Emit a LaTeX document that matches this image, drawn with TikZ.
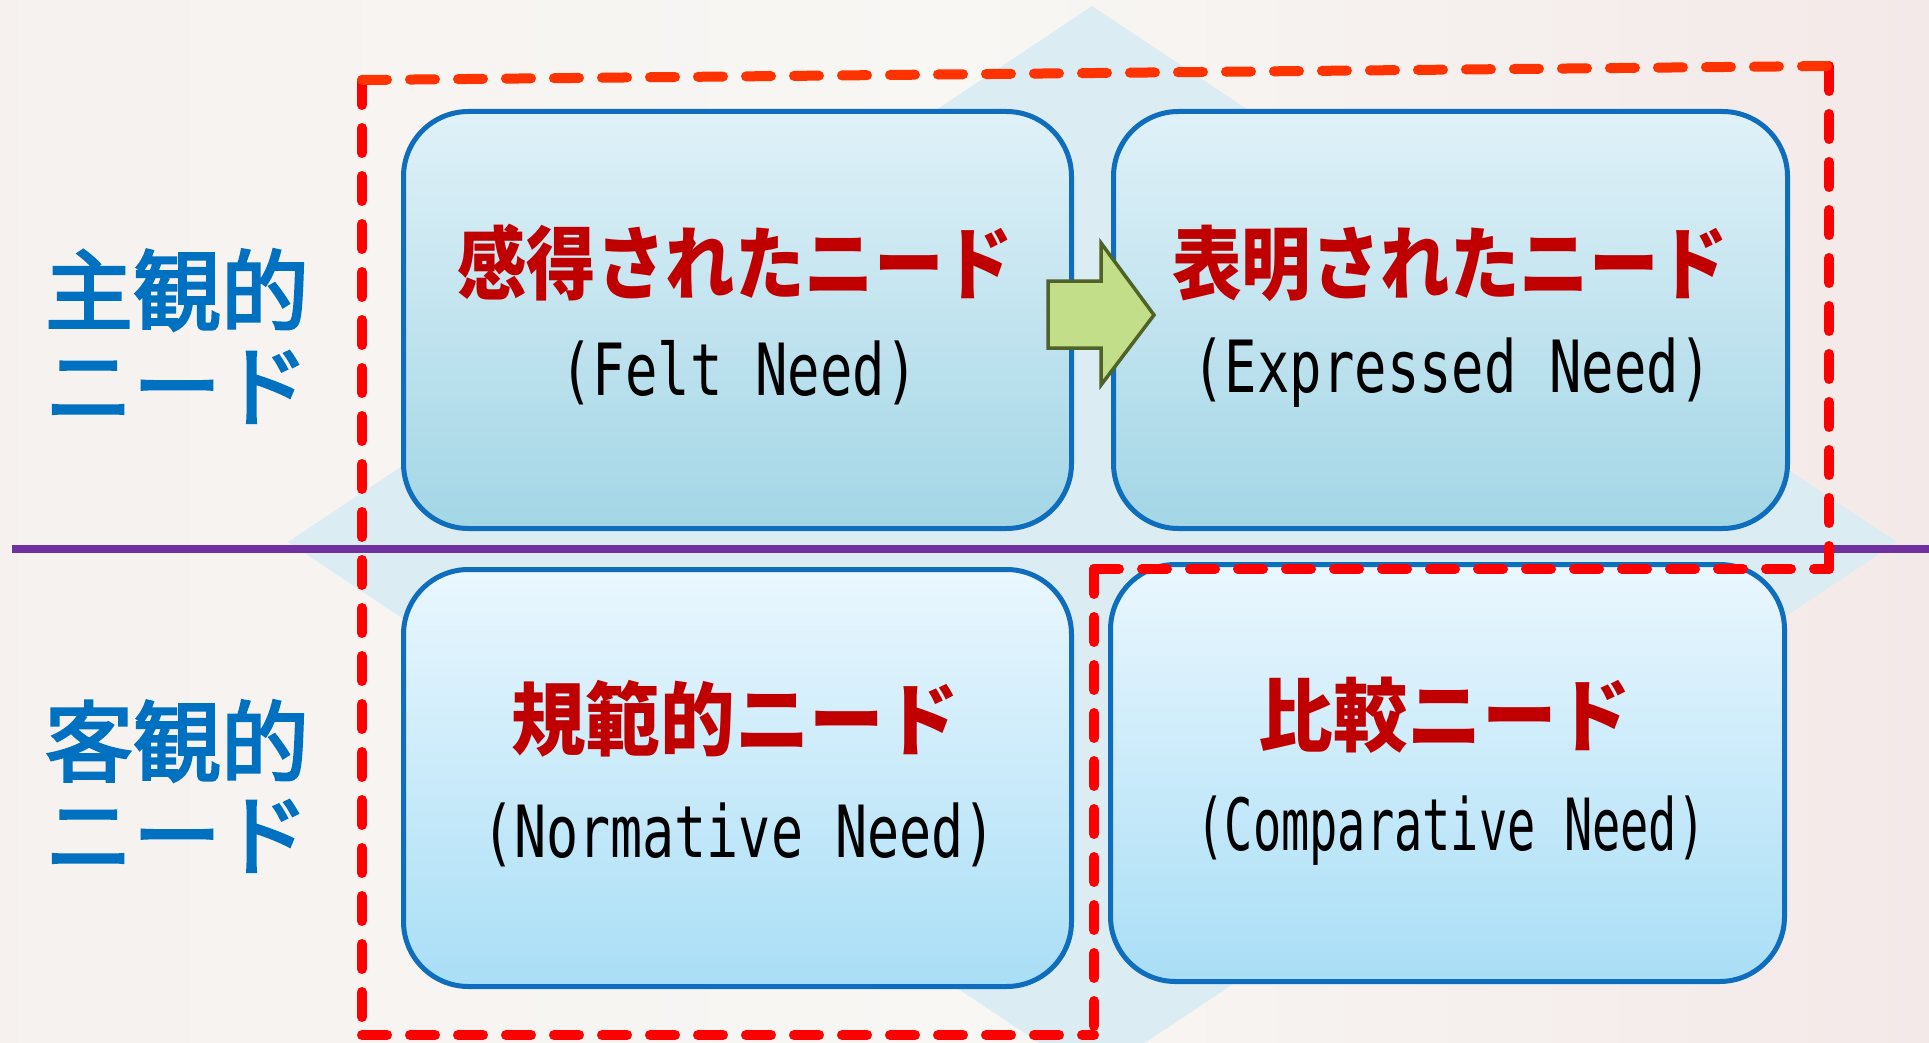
\documentclass[tikz,border=0pt]{standalone}
\usepackage{fontspec}
\usepackage{graphicx}
\newfontfamily\jp{Noto Sans CJK JP}
\newfontfamily\jpm{Noto Sans CJK JP}[FakeBold=3]
\setmonofont{DejaVu Sans Mono}
\usetikzlibrary{shadows}
\definecolor{bgc}{HTML}{F8F7F4}
\definecolor{bgpink}{HTML}{F3E9E8}
\definecolor{diam}{HTML}{DBECF2}
\definecolor{purp}{HTML}{7030A0}
\definecolor{jpred}{HTML}{C00000}
\definecolor{lblue}{HTML}{0070C0}
\definecolor{boxblue}{HTML}{0F6DBE}
\definecolor{dashred}{HTML}{FF0000}
\definecolor{dashorange}{HTML}{FF3300}
\definecolor{arrfill}{HTML}{C3DE88}
\definecolor{arrdraw}{HTML}{4F6228}
\definecolor{toptop}{HTML}{E0F1F8}
\definecolor{topbot}{HTML}{A3D6E6}
\definecolor{bottop}{HTML}{EAF7FE}
\definecolor{botbot}{HTML}{A9DEF6}
\tikzset{
  needbox/.style={draw=boxblue, line width=5pt, rounded corners=65pt, inner sep=0pt,
    drop shadow={shadow xshift=0.8pt, shadow yshift=-1.6pt, opacity=0.6, fill=black!80}},
  topbox/.style={needbox, top color=toptop, bottom color=topbot},
  botbox/.style={needbox, top color=bottop, bottom color=botbot},
  jptitle/.style={text=jpred, font=\jp\bfseries\fontsize{80}{90}\selectfont, inner sep=0pt},
  entitle/.style={text=black, font=\ttfamily\fontsize{72}{80}\selectfont, inner sep=0pt},
  sidelabel/.style={text=lblue, font=\jpm\fontsize{88}{96}\selectfont, inner sep=0pt},
  reddash/.style={draw=dashred, line width=10pt, line cap=round, dash pattern=on 25pt off 23pt},
}
\begin{document}
\begin{tikzpicture}[x=1pt,y=-1pt]
  % background
  \useasboundingbox (0,0) rectangle (1929,1043);
  \shade[left color=bgpink!40!bgc, right color=bgpink, middle color=bgc] (0,0) rectangle (1929,1043);
  % diamond
  \fill[diam] (1092,6) -- (1897,542) -- (1092,1078) -- (288,542) -- cycle;
  % dividing line
  \draw[purp, line width=8pt] (12,549) -- (1929,549);
  % boxes
  \node[topbox, minimum width=668pt, minimum height=417pt] (felt) at (737.5,320) {};
  \node[topbox, minimum width=674pt, minimum height=417pt] (expr) at (1450.5,320) {};
  \node[botbox, minimum width=668pt, minimum height=417pt] (norm) at (737.5,778) {};
  \node[botbox, minimum width=674pt, minimum height=417pt] (comp) at (1447.5,773) {};
  % texts
  \node[jptitle] (fjp) at (735,263) {\resizebox{556pt}{\height}{感得されたニード}};
  \node[entitle] (flt) at (739,373) {\resizebox{357pt}{\height}{(Felt Need)}};
  \node[jptitle] (ejp) at (1450,263) {\resizebox{556pt}{\height}{表明されたニード}};
  \node[entitle] (elt) at (1452,373) {\resizebox{519pt}{\height}{(Expressed Need)}};
  \node[jptitle] (njp) at (735,719) {\resizebox{448pt}{\height}{規範的ニード}};
  \node[entitle] (nlt) at (739,835) {\resizebox{514pt}{\height}{(Normative Need)}};
  \node[jptitle] (cjp) at (1445,715) {\resizebox{373pt}{\height}{比較ニード}};
  \node[entitle] (clt) at (1451,831) {\resizebox{509pt}{\height}{(Comparative Need)}};
  % side labels
  \node[sidelabel] (s1a) at (177,290) {主観的};
  \node[sidelabel] (s1b) at (177,387) {ニード};
  \node[sidelabel] (s2a) at (177,741) {客観的};
  \node[sidelabel] (s2b) at (177,836) {ニード};
  % block arrow
  \draw[fill=arrfill, draw=arrdraw, line width=3.5pt, line join=miter]
    (1048,281) -- (1101,281) -- (1101,243) -- (1154,315) -- (1101,385) -- (1101,348) -- (1048,348) -- cycle;
  % red dashed outlines
  \coordinate (c1) at (362,80);
  \coordinate (c2) at (1829,66);
  \coordinate (c3) at (1829,569);
  \coordinate (c4) at (1094,569);
  \coordinate (c5) at (1094,1035);
  \coordinate (c6) at (362,1035);
  \draw[reddash] (c1) -- (c6);
  \draw[reddash] (c2) -- (c3);
  \draw[reddash] (c4) -- (c3);
  \draw[reddash] (c4) -- (c5);
  \draw[reddash] (c6) -- (c5);
  \draw[reddash, draw=dashorange] (c1) -- (c2);
\end{tikzpicture}
\end{document}
